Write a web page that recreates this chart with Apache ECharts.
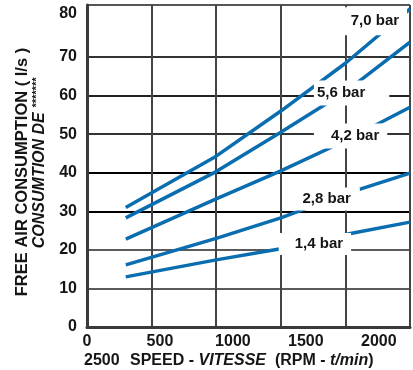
<!DOCTYPE html>
<html>
<head>
<meta charset="utf-8">
<script src="https://cdn.jsdelivr.net/npm/echarts@6/dist/echarts.min.js"></script>
<style>
html,body{margin:0;padding:0;background:#fff;}
#c{width:413px;height:370px;}
</style>
</head>
<body>
<div id="c"></div>
<script>
// ---- data ----
const speedRpm = [300, 1000, 1500, 2000, 2500];
const bar70 = [31.0, 44.3, 56.0, 68.4, 82.5];
const bar56 = [28.3, 40.3, 50.5, 61.0, 73.9];
const bar42 = [22.8, 33.2, 40.5, 48.3, 57.0];
const bar28 = [16.1, 23.0, 28.3, 34.5, 39.9];
const bar14 = [13.0, 17.4, 20.3, 24.0, 27.2];
const seriesNames = ['7,0 bar', '5,6 bar', '4,2 bar', '2,8 bar', '1,4 bar'];
// label anchor points (rpm, l/s)
const labelRpm = [2232, 2048, 2040, 1855, 1764];
const labelVal = [79.3, 60.7, 49.5, 33.2, 21.5];
const xTickLabels = [0, 500, 1000, 1500, 2000];
const yTickLabels = [0, 10, 20, 30, 40, 50, 60, 70, 80];

const FONT = "'Liberation Sans', Arial, sans-serif";
const BLUE = '#0a6db0';
const allSeries = [bar70, bar56, bar42, bar28, bar14];
const labelPads = [[8,8,5,7],[6,24,4,3],[4,8,6,17],[4,9,4,9],[6,8,1,16]];

const chart = echarts.init(document.getElementById('c'), null, {renderer: 'canvas'});

const lineSeries = allSeries.map((vals, i) => ({
  name: seriesNames[i],
  type: 'line',
  xAxisIndex: 0, yAxisIndex: 0,
  data: speedRpm.map((x, j) => [x, vals[j]]),
  showSymbol: false,
  symbol: 'none',
  lineStyle: {color: BLUE, width: 3.5},
  z: 2,
  silent: true
}));

const labelSeries = {
  type: 'scatter',
  xAxisIndex: 0, yAxisIndex: 0,
  symbolSize: 0,
  z: 5,
  silent: true,
  itemStyle: {opacity: 1, color: '#fff'},
  emphasis: {disabled: true},
  data: seriesNames.map((n, i) => ({
    value: [labelRpm[i], labelVal[i]],
    label: {formatter: n, padding: labelPads[i]}
  })),
  label: {
    show: true, position: 'inside',
    fontFamily: FONT, fontWeight: 'bold', fontSize: 15, color: '#151515',
    textBorderWidth: 0, textBorderColor: 'transparent', textShadowBlur: 0,
    opacity: 1,
    backgroundColor: '#fff'
  }
};

const option = {
  animation: false,
  backgroundColor: '#fff',
  grid: {left: 87, right: 0, top: 5, bottom: 43, containLabel: false},
  xAxis: [{
    type: 'value', min: 0, max: 2500, interval: 500,
    axisLine: {show: true, onZero: false, lineStyle: {color: '#3a3a3a', width: 3}},
    axisTick: {show: false},
    axisLabel: {show: false},
    splitLine: {show: true, lineStyle: {color: '#444', width: 2}}
  }, {
    type: 'value', min: 0, max: 2214, interval: 500, position: 'bottom',
    axisLine: {show: false}, axisTick: {show: false}, splitLine: {show: false},
    axisLabel: {
      margin: 7, fontFamily: FONT, fontWeight: 'bold', fontSize: 16, color: '#151515',
      formatter: v => xTickLabels.indexOf(v) >= 0 ? String(v) : ''
    }
  }],
  yAxis: [{
    type: 'value', min: 0, max: 83.5, interval: 10,
    axisLine: {show: true, onZero: false, lineStyle: {color: '#3a3a3a', width: 3}},
    axisTick: {show: false},
    axisLabel: {
      margin: 10, fontFamily: FONT, fontWeight: 'bold', fontSize: 16, color: '#151515',
      formatter: v => {
        if (yTickLabels.indexOf(v) < 0) return '';
        return v === 80 ? '{t|80}' : String(v);
      },
      rich: {t: {fontFamily: FONT, fontWeight: 'bold', fontSize: 16, color: '#151515', padding: [0, 0, 10, 0]}}
    },
    splitLine: {show: true, lineStyle: {
      color: ['#333', '#5a5a5a', '#5a5a5a', '#000', '#000', '#333', '#222', '#333', 'rgba(0,0,0,0)', '#555'],
      width: 2
    }}
  }],
  graphic: [
    {type: 'text', x: 22, y: 172, rotation: Math.PI / 2,
     style: {text: 'FREE AIR CONSUMPTION ( l/s )', font: `bold 16.5px ${FONT}`, fill: '#151515', align: 'center', verticalAlign: 'middle'}},
    {type: 'text', x: 40, y: 163, rotation: Math.PI / 2,
     style: {text: '{a|CONSUMTION DE }{s|*******}', align: 'center', verticalAlign: 'middle',
       rich: {a: {fontFamily: FONT, fontWeight: 'bold', fontStyle: 'italic', fontSize: 16, fill: '#151515'},
              s: {fontFamily: FONT, fontWeight: 'bold', fontStyle: 'italic', fontSize: 11, fill: '#151515', verticalAlign: 'top', padding: [0,0,6,0]}}}},
    {type: 'text', left: 84, top: 353,
     style: {text: '2500', font: `bold 16px ${FONT}`, fill: '#151515'}},
    {type: 'text', left: 130, top: 353,
     style: {text: '{b|SPEED - }{i|VITESSE}{b|  (RPM - }{i|t/min}{b|)}',
       rich: {b: {fontFamily: FONT, fontWeight: 'bold', fontSize: 16, fill: '#151515'},
              i: {fontFamily: FONT, fontWeight: 'bold', fontStyle: 'italic', fontSize: 16, fill: '#151515'}}}}
  ],
  series: [...lineSeries, labelSeries]
};
chart.setOption(option);
</script>
</body>
</html>
